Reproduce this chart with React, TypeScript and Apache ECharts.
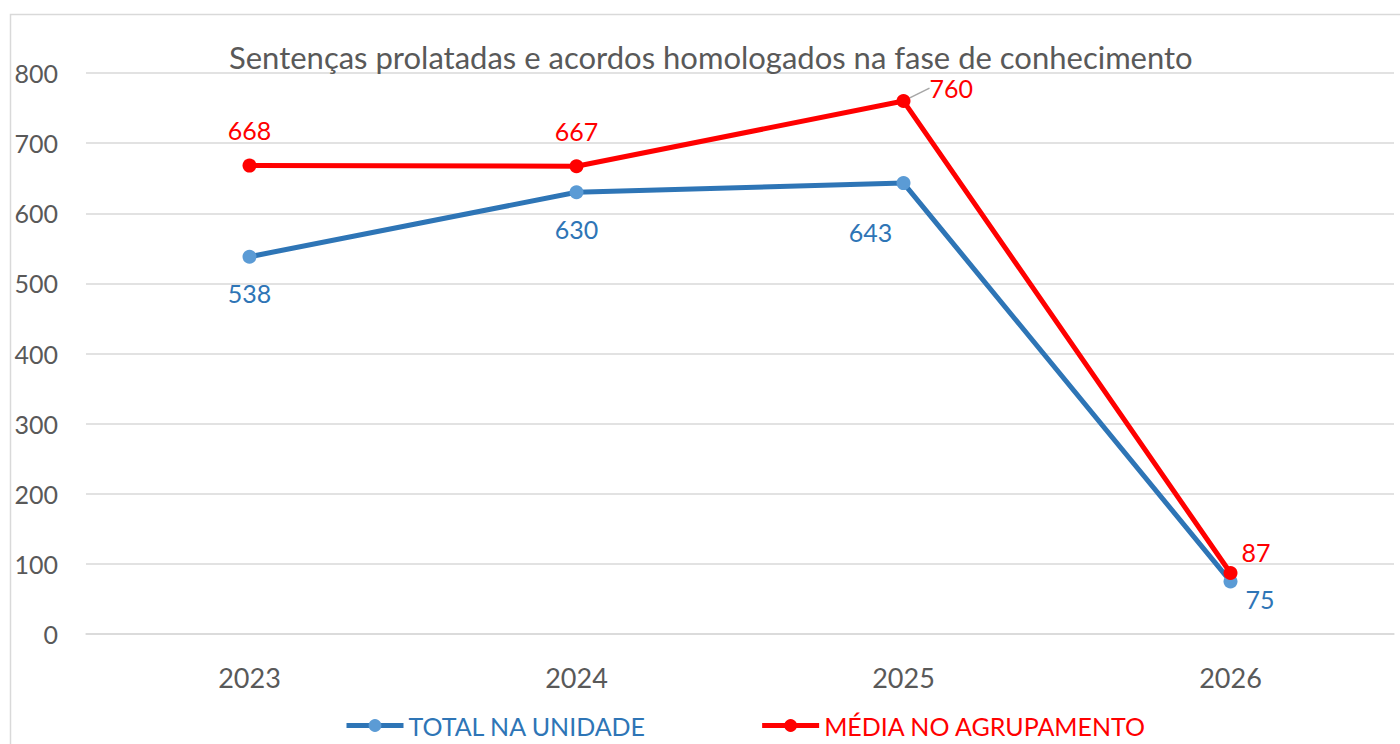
import React, { useEffect, useRef } from "react";
import * as echarts from "echarts";

const categories = ["2023", "2024", "2025", "2026"];
const totalNaUnidade = [538, 630, 643, 75];
const mediaNoAgrupamento = [668, 667, 760, 87];
const titleText = "Sentenças prolatadas e acordos homologados na fase de conhecimento";
const seriesNames = ["TOTAL NA UNIDADE", "MÉDIA NO AGRUPAMENTO"];

const FONT = "Lato, 'Open Sans', sans-serif";

export default function App() {
  const ref = useRef<HTMLDivElement>(null);
  useEffect(() => {
    if (!ref.current) return;
    const chart = echarts.init(ref.current, null, { renderer: "svg" });
    const blueLabelPos: any[] = [
      { position: "bottom", distance: 17 },
      { position: "bottom", distance: 17 },
      { position: "bottom", distance: 29, offset: [-33, 0] },
      { position: "right", distance: 8, offset: [0, 18] },
    ];
    const redLabelPos: any[] = [
      { position: "top", distance: 16 },
      { position: "top", distance: 16 },
      { position: "right", distance: 5 },
      { position: "right", distance: 6 },
    ];
    chart.setOption({
      animation: false,
      textStyle: { fontFamily: FONT },
      title: {
        text: titleText,
        left: 224,
        top: 36,
        textStyle: { fontFamily: FONT, fontSize: 31, fontWeight: "normal", color: "#595959" },
      },
      graphic: [
        {
          type: "rect",
          shape: { x: 10.5, y: 14.5, width: 1400, height: 740 },
          style: { fill: "none", stroke: "#d9d9d9", lineWidth: 1.5 },
          z: -10,
        },
      ],
      legend: {
        bottom: 1,
        left: 339,
        itemWidth: 57,
        itemHeight: 16,
        itemGap: 113,
        lineStyle: { width: 5 },
        textStyle: { fontFamily: FONT, fontSize: 25 },
        data: [
          { name: seriesNames[0], textStyle: { color: "#2E75B6" } },
          { name: seriesNames[1], textStyle: { color: "#FF0000" } },
        ],
      },
      grid: { left: 86, right: 6, top: 73, bottom: 110 },
      xAxis: {
        type: "category",
        data: categories,
        boundaryGap: true,
        axisLine: { show: true, lineStyle: { color: "#d9d9d9", width: 1.5 } },
        axisTick: { show: false },
        axisLabel: { fontFamily: FONT, fontSize: 27, color: "#595959", margin: 30 },
      },
      yAxis: {
        type: "value",
        min: 0,
        max: 800,
        interval: 100,
        axisLine: { show: false },
        axisTick: { show: false },
        splitLine: { lineStyle: { color: "#d9d9d9", width: 1.5 } },
        axisLabel: { fontFamily: FONT, fontSize: 25, color: "#595959", margin: 28 },
      },
      series: [
        {
          name: seriesNames[0],
          type: "line",
          data: totalNaUnidade.map((v, i) => ({ value: v, label: blueLabelPos[i] })),
          lineStyle: { color: "#2E75B6", width: 5 },
          itemStyle: { color: "#5B9BD5" },
          symbol: "circle",
          symbolSize: 14,
          label: { show: true, fontFamily: FONT, fontSize: 25, color: "#2E75B6" },
          z: 2,
        },
        {
          name: seriesNames[1],
          type: "line",
          data: mediaNoAgrupamento.map((v, i) => ({
            value: v,
            label: redLabelPos[i],
            labelLine: { show: i === 2 },
          })),
          lineStyle: { color: "#FF0000", width: 5 },
          itemStyle: { color: "#FF0000" },
          symbol: "circle",
          symbolSize: 14,
          label: { show: true, fontFamily: FONT, fontSize: 25, color: "#FF0000" },
          labelLine: { show: false, lineStyle: { color: "#a6a6a6", width: 1.5 } },
          labelLayout: (params: any) =>
            params.dataIndex === 2
              ? { dx: 14, dy: -13 }
              : params.dataIndex === 3
              ? { dx: -2, dy: -21 }
              : {},
          z: 3,
        },
      ],
    });
    return () => chart.dispose();
  }, []);
  return (
    <div
      ref={ref}
      style={{ position: "absolute", left: 0, top: 0, width: 1400, height: 744, background: "#fff" }}
    />
  );
}
